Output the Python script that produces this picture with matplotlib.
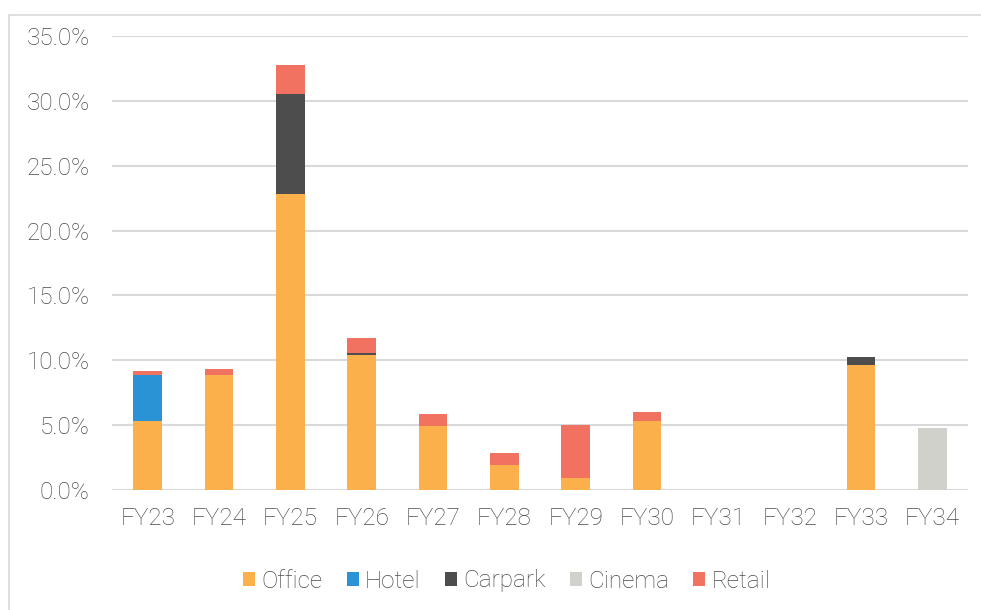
import matplotlib
matplotlib.use("Agg")
import matplotlib.pyplot as plt
from matplotlib.patches import Rectangle
from matplotlib.ticker import FuncFormatter, MultipleLocator
import numpy as np

categories = ["FY23", "FY24", "FY25", "FY26", "FY27", "FY28", "FY29", "FY30", "FY31", "FY32", "FY33", "FY34"]
office  = [5.3, 8.9, 22.8, 10.4, 4.9, 1.95, 0.95, 5.3, 0, 0, 9.65, 0]
hotel   = [3.55, 0, 0, 0, 0, 0, 0, 0, 0, 0, 0, 0]
carpark = [0, 0, 7.7, 0.17, 0, 0, 0, 0, 0, 0, 0.6, 0]
cinema  = [0, 0, 0, 0, 0, 0, 0, 0, 0, 0, 0, 4.75]
retail  = [0.35, 0.45, 2.25, 1.15, 0.95, 0.9, 4.05, 0.7, 0, 0, 0, 0]

series = [("Office", office, "#FBB04B"), ("Hotel", hotel, "#2A93D5"),
          ("Carpark", carpark, "#4D4D4D"), ("Cinema", cinema, "#D1D1CC"),
          ("Retail", retail, "#F27262")]

plt.rcParams['font.family'] = ['Roboto', 'DejaVu Sans']
txt = "#4A4A4A"
fs = 17.5

fig = plt.figure(figsize=(9.81, 6.10), dpi=100)
W, H = 981, 610
ax = fig.add_axes([112 / W, 1 - 490 / H, (968 - 112) / W, (490 - 36) / H])

x = np.arange(len(categories))
bottom = np.zeros(len(categories))
for name, vals, col in series:
    v = np.array(vals, dtype=float)
    ax.bar(x, v, 0.4, bottom=bottom, color=col, label=name, zorder=3)
    bottom += v

ax.set_xlim(-0.5, len(categories) - 0.5)
ax.set_ylim(0, 35)
ax.yaxis.set_major_locator(MultipleLocator(5))
ax.yaxis.set_major_formatter(FuncFormatter(lambda v, p: f"{v:.1f}%"))
ax.grid(axis='y', color="#D9D9D9", linewidth=1.5, zorder=0)
ax.set_axisbelow(True)
for s in ax.spines.values():
    s.set_visible(False)
ax.tick_params(axis='both', length=0, colors=txt, labelsize=fs)
ax.tick_params(axis='y', pad=16)
ax.tick_params(axis='x', pad=12)
ax.set_xticks(x)
ax.set_xticklabels(categories)
for lab in ax.get_xticklabels() + ax.get_yticklabels():
    lab.set_fontweight('light')
    lab.set_color(txt)

leg = fig.legend(loc='center', bbox_to_anchor=(506.5 / W, 1 - 581 / H), ncol=5, frameon=False,
                 handlelength=0.5, handleheight=0.5, handletextpad=0.25, columnspacing=1.0,
                 prop={'size': fs, 'weight': 'light'})
for t in leg.get_texts():
    t.set_color(txt)

fig.patches.append(Rectangle((9 / W, -0.01), 1.0, 1 - 15 / H + 0.01, transform=fig.transFigure,
                             fill=False, edgecolor="#D9D9D9", linewidth=1.2))

fig.savefig("out.png", dpi=100, facecolor="white")
